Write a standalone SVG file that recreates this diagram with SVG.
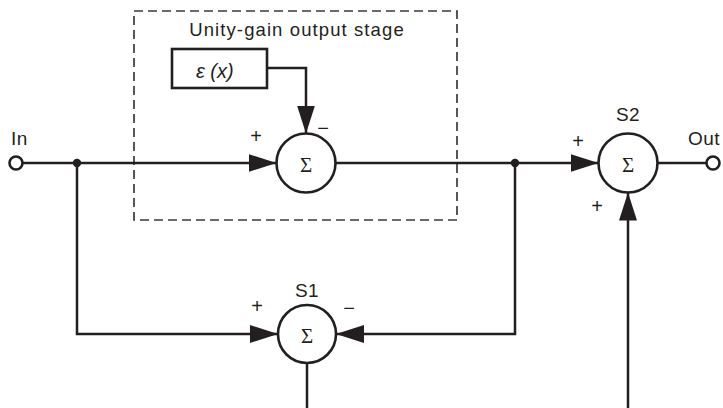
<svg xmlns="http://www.w3.org/2000/svg" width="723" height="408" viewBox="0 0 723 408">
<style>
  .ln{fill:none;stroke:#231f20;stroke-width:2.5}
  .node{fill:#fff;stroke:#231f20;stroke-width:2.6}
  .lbl{font-family:"Liberation Sans",Arial,sans-serif;font-size:19px;fill:#231f20;letter-spacing:0.5px}
  .sig{font-family:"Liberation Serif","Times New Roman",serif;font-size:21px;fill:#231f20;text-anchor:middle}
  .sgn{font-family:"Liberation Sans",Arial,sans-serif;font-size:20px;fill:#231f20;text-anchor:middle}
  .dash{fill:none;stroke:#3a3a3a;stroke-width:1.7;stroke-dasharray:9 5}
</style>
<defs>
  <marker id="ah" markerUnits="userSpaceOnUse" markerWidth="28" markerHeight="18" refX="28" refY="9" orient="auto">
    <path d="M0,0 L28,9 L0,18 z" fill="#231f20"/>
  </marker>
</defs>
<g id="stage">
  <rect class="dash" x="134" y="11" width="323" height="209"/>
  <text class="lbl" x="297" y="36" text-anchor="middle" style="font-size:18.5px;letter-spacing:1.1px">Unity-gain output stage</text>
</g>
<g id="connectors">
  <path class="ln" d="M22.5,163 H276.5" marker-end="url(#ah)"/>
  <path class="ln" d="M335.5,163 H598.5" marker-end="url(#ah)"/>
  <path class="ln" d="M657.5,163 H706.5"/>
  <path class="ln" d="M268,68 H306 V133.5" marker-end="url(#ah)"/>
  <path class="ln" d="M77,163 V334 H278" marker-end="url(#ah)"/>
  <path class="ln" d="M515,163 V334 H336" marker-end="url(#ah)"/>
  <path class="ln" d="M307,363 V410 H628 V192.5" marker-end="url(#ah)"/>
  <circle cx="77" cy="163" r="4.2" fill="#231f20"/>
  <circle cx="515" cy="163" r="4.2" fill="#231f20"/>
</g>
<g id="in">
  <circle class="node" cx="16" cy="163" r="6.5"/>
  <text class="lbl" x="11" y="145">In</text>
</g>
<g id="out">
  <circle class="node" cx="713" cy="163" r="6.5"/>
  <text class="lbl" x="688" y="145">Out</text>
</g>
<g id="eps">
  <rect class="node" x="172" y="49" width="95" height="39" stroke-width="2.7"/>
  <text x="196" y="78" font-family="'Liberation Sans',Arial,sans-serif" font-size="20" font-style="italic" fill="#231f20">ε (x)</text>
</g>
<g id="sum1">
  <circle class="node" cx="306" cy="163" r="29.5"/>
  <text class="sig" x="306" y="171.5">Σ</text>
  <text class="sgn" x="256" y="143">+</text>
  <text class="sgn" x="323" y="135">−</text>
</g>
<g id="S2">
  <circle class="node" cx="628" cy="163" r="29.5"/>
  <text class="sig" x="628" y="171.5">Σ</text>
  <text class="lbl" x="628" y="121" text-anchor="middle">S2</text>
  <text class="sgn" x="578" y="148">+</text>
  <text class="sgn" x="597" y="213">+</text>
</g>
<g id="S1">
  <circle class="node" cx="307" cy="334" r="29"/>
  <text class="sig" x="307" y="342.5">Σ</text>
  <text class="lbl" x="307" y="297" text-anchor="middle">S1</text>
  <text class="sgn" x="257" y="313">+</text>
  <text class="sgn" x="349" y="315">−</text>
</g>
</svg>
